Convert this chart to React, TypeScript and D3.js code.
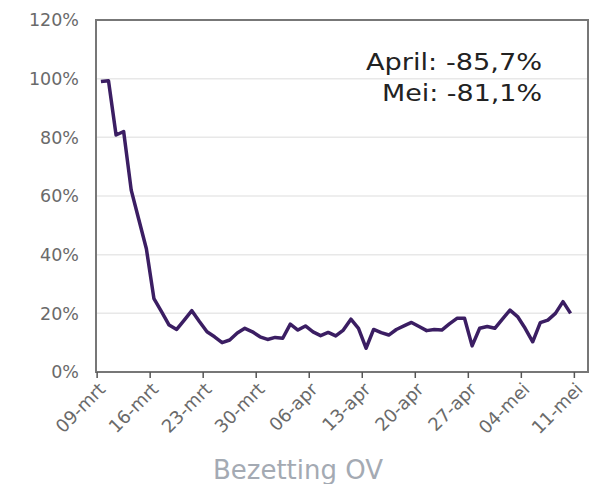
import React, { useEffect, useRef } from 'react';
import * as d3 from 'd3';

// occupancy of public transport vs. normal, one value per day from 09-mrt to 10-mei
const occupancy: number[] = [
  99, 99.3, 80.8, 82, 62, 52, 42, 25, 20.6, 16, 14.5, 17.7, 20.9, 17.2, 13.7, 12,
  10, 10.9, 13.3, 14.9, 13.7, 12, 11.1, 11.8, 11.5, 16.3, 14.3, 15.7, 13.7, 12.4,
  13.5, 12.3, 14.3, 18, 14.9, 8.1, 14.5, 13.4, 12.6, 14.5, 15.7, 16.9, 15.5, 14.1,
  14.5, 14.3, 16.4, 18.3, 18.3, 8.9, 14.9, 15.5, 14.9, 18, 21.1, 18.9, 14.9, 10.3,
  16.8, 17.7, 20, 24, 20,
];

const tickLabels: string[] = [
  '09-mrt', '16-mrt', '23-mrt', '30-mrt', '06-apr',
  '13-apr', '20-apr', '27-apr', '04-mei', '11-mei',
];
const tickDays: number[] = [0, 7, 14, 21, 28, 35, 42, 49, 56, 63];

const yTicks: number[] = [0, 20, 40, 60, 80, 100, 120];

const annotations: string[] = ['April: -85,7%', 'Mei: -81,1%'];
const title = 'Bezetting OV';

const App: React.FC = () => {
  const chartRef = useRef<SVGSVGElement | null>(null);

  useEffect(() => {
    document.body.style.margin = '0';
    const svg = d3.select(chartRef.current);
    svg.selectAll('*').remove();

    const left = 96, right = 588, top = 20, bottom = 372;
    const font = '"DejaVu Sans", Verdana, sans-serif';

    // days since 09-mrt; points sit at midday
    const x = d3.scaleLinear().domain([-0.15, 64.8]).range([left, right]);
    const y = d3.scaleLinear().domain([0, 120]).range([bottom, top]);

    // gridlines
    svg.append('g')
      .selectAll('line')
      .data(yTicks.filter(t => t > 0 && t < 120))
      .enter()
      .append('line')
      .attr('x1', left)
      .attr('x2', right)
      .attr('y1', d => y(d))
      .attr('y2', d => y(d))
      .attr('stroke', '#e8e8e8')
      .attr('stroke-width', 1.5);

    // y labels
    svg.append('g')
      .selectAll('text')
      .data(yTicks)
      .enter()
      .append('text')
      .attr('x', 79)
      .attr('y', d => y(d))
      .attr('dy', '0.36em')
      .attr('text-anchor', 'end')
      .attr('font-family', font)
      .attr('font-size', 17.5)
      .attr('fill', '#6a6a6a')
      .text(d => `${d}%`);

    // frame
    svg.append('rect')
      .attr('x', left)
      .attr('y', top)
      .attr('width', right - left)
      .attr('height', bottom - top)
      .attr('fill', 'none')
      .attr('stroke', '#777')
      .attr('stroke-width', 2);

    // x ticks + rotated labels
    const xg = svg.append('g');
    xg.selectAll('line')
      .data(tickDays)
      .enter()
      .append('line')
      .attr('x1', d => x(d))
      .attr('x2', d => x(d))
      .attr('y1', bottom)
      .attr('y2', bottom + 6)
      .attr('stroke', '#555')
      .attr('stroke-width', 1.5);

    xg.selectAll('text')
      .data(tickDays)
      .enter()
      .append('text')
      .attr('transform', d => `translate(${x(d) + 5},${bottom + 14}) rotate(-45)`)
      .attr('text-anchor', 'end')
      .attr('dy', '0.35em')
      .attr('font-family', font)
      .attr('font-size', 18)
      .attr('fill', '#6a6a6a')
      .text((d, i) => tickLabels[i]);

    // the line
    const line = d3.line<number>()
      .x((d, i) => x(i + 0.5))
      .y(d => y(d));

    svg.append('path')
      .datum(occupancy)
      .attr('d', line)
      .attr('fill', 'none')
      .attr('stroke', '#3b1e63')
      .attr('stroke-width', 3.5)
      .attr('stroke-linejoin', 'round');

    // annotation
    svg.append('g')
      .selectAll('text')
      .data(annotations)
      .enter()
      .append('text')
      .attr('x', 542)
      .attr('y', (d, i) => 70 + i * 31)
      .attr('text-anchor', 'end')
      .attr('font-family', font)
      .attr('font-size', 23)
      .attr('fill', '#222')
      .attr('textLength', (d, i) => (i === 0 ? 176 : 160))
      .attr('lengthAdjust', 'spacingAndGlyphs')
      .text(d => d);

    // title
    svg.append('text')
      .attr('x', 298)
      .attr('y', 479)
      .attr('text-anchor', 'middle')
      .attr('font-family', font)
      .attr('font-size', 26)
      .attr('fill', '#a4aab3')
      .text(title);
  }, []);

  return <svg ref={chartRef} width={599} height={484} style={{ display: 'block', background: '#fff' }}></svg>;
};

export default App;
